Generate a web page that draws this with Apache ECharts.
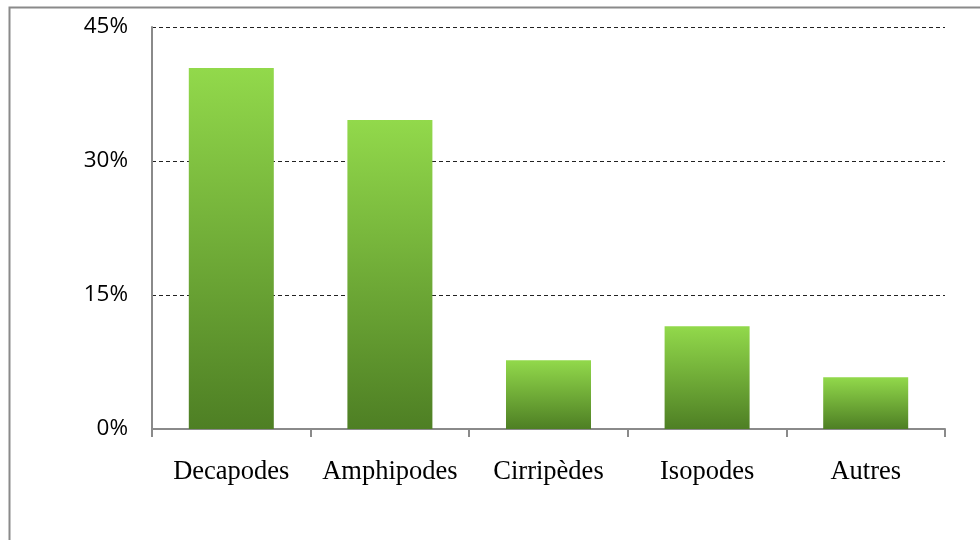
<!DOCTYPE html>
<html><head><meta charset="utf-8">
<script src="https://cdn.jsdelivr.net/npm/echarts@6/dist/echarts.min.js"></script>
<style>html,body{margin:0;padding:0;background:#fff}#c{width:980px;height:540px}</style>
</head><body><div id="c"></div>
<script>
const categories = ['Decapodes', 'Amphipodes', 'Cirripèdes', 'Isopodes', 'Autres'];
const values = [40.4, 34.6, 7.7, 11.5, 5.8];
const yTicks = [0, 15, 30, 45];

const chart = echarts.init(document.getElementById('c'), null, {renderer: 'canvas'});
chart.setOption({
  animation: false,
  backgroundColor: '#fff',
  graphic: [{
    type: 'rect', left: 7, top: 5, shape: {x: 0, y: 0, width: 1100, height: 1100},
    style: {fill: 'none', stroke: '#8a8a8a', lineWidth: 2}, silent: true, z: -10
  }],
  grid: {left: 152, right: 35, top: 27, bottom: 111, containLabel: false},
  xAxis: {
    type: 'category', data: categories,
    axisLine: {lineStyle: {color: '#8a8a8a', width: 2}},
    axisTick: {show: true, interval: 0, length: 8, alignWithLabel: false, lineStyle: {color: '#8a8a8a', width: 2}},
    axisLabel: {interval: 0, hideOverlap: false, fontFamily: 'Liberation Serif', fontSize: 26.5, color: '#000', margin: 30}
  },
  yAxis: {
    type: 'value', min: 0, max: 45, interval: 15,
    axisLine: {show: true, lineStyle: {color: '#8a8a8a', width: 2}},
    axisTick: {show: false},
    axisLabel: {fontFamily: 'Open Sans', fontSize: 22.5, color: '#000', margin: 24,
      formatter: v => yTicks.includes(v) ? v + '%' : ''},
    splitLine: {show: true, lineStyle: {color: '#222', width: 1, type: [4, 3]}}
  },
  series: [{
    type: 'bar', data: values, barWidth: 85,
    itemStyle: {
      color: new echarts.graphic.LinearGradient(0, 0, 0, 1, [
        {offset: 0, color: '#92d94b'},
        {offset: 1, color: '#4e7f24'}
      ])
    }
  }]
});
</script></body></html>
